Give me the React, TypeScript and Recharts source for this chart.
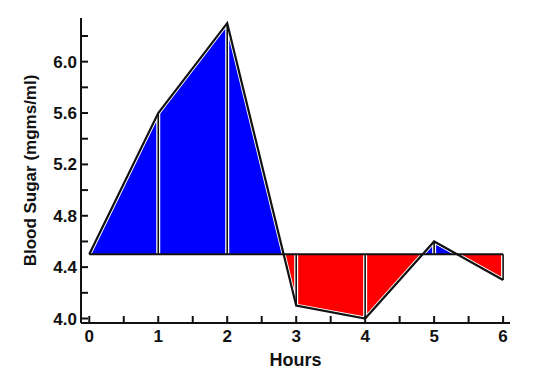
import React from 'react';
import { ComposedChart, Area, Line, XAxis, YAxis, ReferenceLine, Label } from 'recharts';

const hours = [0, 1, 2, 3, 4, 5, 6];
const bloodSugar = [4.5, 5.6, 6.3, 4.1, 4.0, 4.6, 4.3];
const baseline = 4.5;
const xTicks = [0, 0.5, 1, 1.5, 2, 2.5, 3, 3.5, 4, 4.5, 5, 5.5, 6];
const xTickLabels = ['0', '1', '2', '3', '4', '5', '6'];
const yTicks = [4.0, 4.2, 4.4, 4.6, 4.8, 5.0, 5.2, 5.4, 5.6, 5.8, 6.0, 6.2];
const yTickLabels = ['4.0', '4.4', '4.8', '5.2', '5.6', '6.0'];
const xTitle = 'Hours';
const yTitle = 'Blood Sugar (mgms/ml)';

const data = hours.map((h, i) => ({ hour: h, sugar: bloodSugar[i] }));
const maxV = Math.max(...bloodSugar);
const minV = Math.min(...bloodSugar);
const splitOffset = (maxV - baseline) / (maxV - minV);

const FONT = '"Liberation Sans", Arial, sans-serif';
const tickStyle = { fontFamily: FONT, fontWeight: 700, fontSize: 17, fill: '#111' };

const xFmt = (v: number) => {
  const s = String(v);
  return xTickLabels.includes(s) ? s : '';
};
const yFmt = (v: number) => {
  const s = v.toFixed(1);
  return yTickLabels.includes(s) ? s : '';
};

const YTitle = (props: any) => {
  const vb = props.viewBox || { x: 0, y: 18, width: 81, height: 305 };
  const x = vb.x + 30;
  const y = vb.y + vb.height / 2;
  return (
    <text x={x} y={y} transform={`rotate(-90, ${x}, ${y})`} textAnchor="middle" dominantBaseline="central"
      style={{ fontFamily: FONT, fontWeight: 700, fontSize: 17, fill: '#111' }}>
      {yTitle}
    </text>
  );
};

const XTitle = (props: any) => {
  const vb = props.viewBox || { x: 81, y: 323, width: 429, height: 56 };
  const x = vb.x + vb.width / 2;
  const y = vb.y + 37;
  return (
    <text x={x} y={y} textAnchor="middle" dominantBaseline="central"
      style={{ fontFamily: FONT, fontWeight: 700, fontSize: 18, fill: '#111' }}>
      {xTitle}
    </text>
  );
};

export default function App() {
  return (
    <div style={{ position: 'absolute', left: 0, top: 0, width: 538, height: 379, background: '#fff' }}>
      <ComposedChart width={538} height={379} data={data} margin={{ top: 18, right: 28, bottom: 0, left: 0 }}>
        <defs>
          <linearGradient id="splitFill" x1="0" y1="0" x2="0" y2="1">
            <stop offset={splitOffset} stopColor="#0000ff" stopOpacity={1} />
            <stop offset={splitOffset} stopColor="#ff0000" stopOpacity={1} />
          </linearGradient>
        </defs>
        <XAxis
          dataKey="hour"
          type="number"
          domain={[-0.12, 6.1]}
          ticks={xTicks}
          interval={0}
          tickFormatter={xFmt}
          tickSize={-7}
          tickMargin={14}
          tick={tickStyle}
          axisLine={{ stroke: '#111', strokeWidth: 2 }}
          tickLine={{ stroke: '#111', strokeWidth: 2 }}
          height={56}
          allowDataOverflow
        >
          <Label content={<XTitle />} />
        </XAxis>
        <YAxis
          type="number"
          domain={[3.965, 6.34]}
          ticks={yTicks}
          interval={0}
          tickFormatter={yFmt}
          tickSize={-7}
          tickMargin={11}
          tick={tickStyle}
          axisLine={{ stroke: '#111', strokeWidth: 2 }}
          tickLine={{ stroke: '#111', strokeWidth: 2 }}
          width={81}
          allowDataOverflow
        >
          <Label content={<YTitle />} />
        </YAxis>
        <Area
          dataKey="sugar"
          type="linear"
          baseValue={baseline}
          fill="url(#splitFill)"
          fillOpacity={1}
          stroke="#ffffff"
          strokeWidth={4}
          isAnimationActive={false}
          dot={false}
          activeDot={false}
        />
        {hours.map((h, i) => (
          <ReferenceLine
            key={`w${h}`}
            segment={[{ x: h, y: baseline }, { x: h, y: bloodSugar[i] }]}
            stroke="#ffffff"
            strokeWidth={4}
          />
        ))}
        {hours.map((h, i) => (
          <ReferenceLine
            key={`b${h}`}
            segment={[{ x: h, y: baseline }, { x: h, y: bloodSugar[i] }]}
            stroke="#111"
            strokeWidth={1.6}
          />
        ))}
        <ReferenceLine
          segment={[{ x: hours[0], y: baseline }, { x: hours[hours.length - 1], y: baseline }]}
          stroke="#111"
          strokeWidth={2}
        />
        <Line
          dataKey="sugar"
          type="linear"
          stroke="#111"
          strokeWidth={2.2}
          dot={false}
          activeDot={false}
          isAnimationActive={false}
        />
      </ComposedChart>
    </div>
  );
}
